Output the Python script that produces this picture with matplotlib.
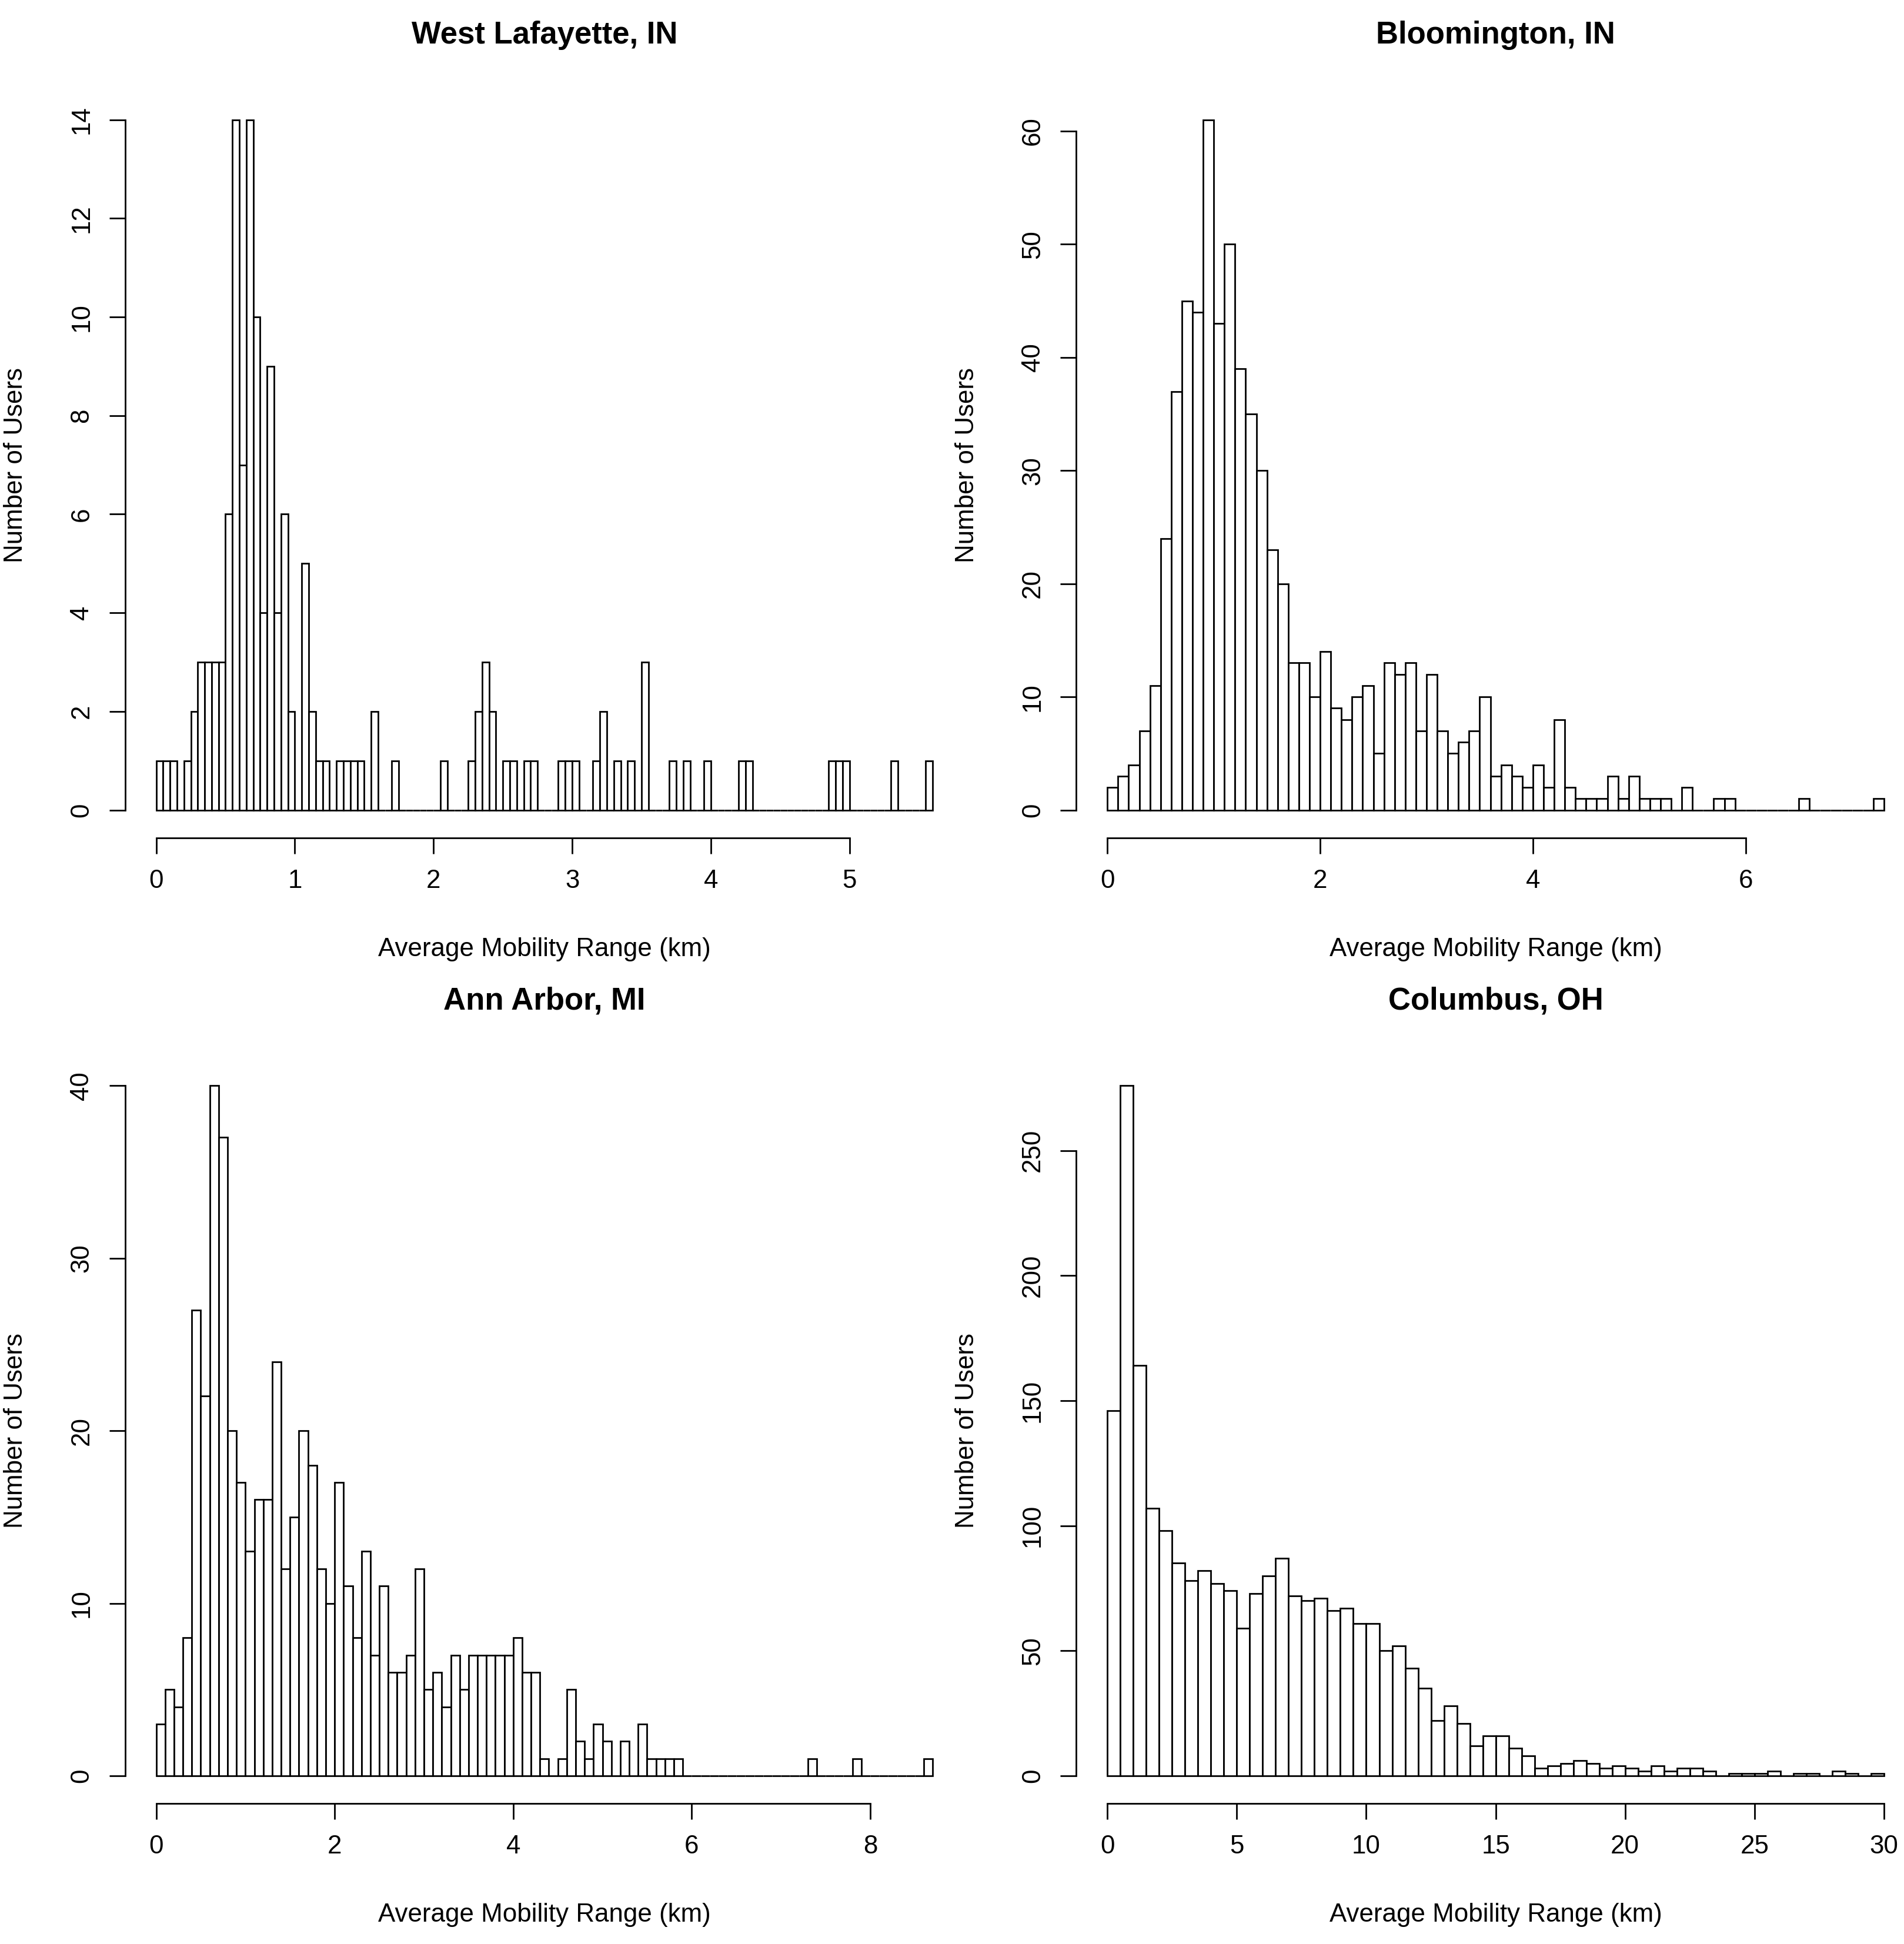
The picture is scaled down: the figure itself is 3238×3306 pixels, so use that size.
import numpy as np
import matplotlib
matplotlib.use('Agg')
import matplotlib.pyplot as plt

plt.rcParams['font.family'] = ['Liberation Sans', 'DejaVu Sans']

# histogram counts per bin
titles = ['West Lafayette, IN', 'Bloomington, IN', 'Ann Arbor, MI', 'Columbus, OH']
bin_widths = [0.05, 0.1, 0.1, 0.5]

lafayette_counts = [1, 1, 1, 0, 1, 2, 3, 3, 3, 3,
                    6, 14, 7, 14, 10, 4, 9, 4, 6, 2,
                    0, 5, 2, 1, 1, 0, 1, 1, 1, 1,
                    0, 2, 0, 0, 1, 0, 0, 0, 0, 0,
                    0, 1, 0, 0, 0, 1, 2, 3, 2, 0,
                    1, 1, 0, 1, 1, 0, 0, 0, 1, 1,
                    1, 0, 0, 1, 2, 0, 1, 0, 1, 0,
                    3, 0, 0, 0, 1, 0, 1, 0, 0, 1,
                    0, 0, 0, 0, 1, 1, 0, 0, 0, 0,
                    0, 0, 0, 0, 0, 0, 0, 1, 1, 1,
                    0, 0, 0, 0, 0, 0, 1, 0, 0, 0,
                    0, 1]

bloomington_counts = [2, 3, 4, 7, 11, 24, 37, 45, 44, 61,
                      43, 50, 39, 35, 30, 23, 20, 13, 13, 10,
                      14, 9, 8, 10, 11, 5, 13, 12, 13, 7,
                      12, 7, 5, 6, 7, 10, 3, 4, 3, 2,
                      4, 2, 8, 2, 1, 1, 1, 3, 1, 3,
                      1, 1, 1, 0, 2, 0, 0, 1, 1, 0,
                      0, 0, 0, 0, 0, 1, 0, 0, 0, 0,
                      0, 0, 1]

annarbor_counts = [3, 5, 4, 8, 27, 22, 40, 37, 20, 17,
                   13, 16, 16, 24, 12, 15, 20, 18, 12, 10,
                   17, 11, 8, 13, 7, 11, 6, 6, 7, 12,
                   5, 6, 4, 7, 5, 7, 7, 7, 7, 7,
                   8, 6, 6, 1, 0, 1, 5, 2, 1, 3,
                   2, 0, 2, 0, 3, 1, 1, 1, 1, 0,
                   0, 0, 0, 0, 0, 0, 0, 0, 0, 0,
                   0, 0, 0, 1, 0, 0, 0, 0, 1, 0,
                   0, 0, 0, 0, 0, 0, 1]

columbus_counts = [146, 276, 164, 107, 98, 85, 78, 82, 77, 74,
                   59, 73, 80, 87, 72, 70, 71, 66, 67, 61,
                   61, 50, 52, 43, 35, 22, 28, 21, 12, 16,
                   16, 11, 8, 3, 4, 5, 6, 5, 3, 4,
                   3, 2, 4, 2, 3, 3, 2, 0, 1, 1,
                   1, 2, 0, 1, 1, 0, 2, 1, 0, 1]

all_counts = [lafayette_counts, bloomington_counts, annarbor_counts, columbus_counts]

x_ticks = [[0, 1, 2, 3, 4, 5],
           [0, 2, 4, 6],
           [0, 2, 4, 6, 8],
           [0, 5, 10, 15, 20, 25, 30]]
y_ticks = [[0, 2, 4, 6, 8, 10, 12, 14],
           [0, 10, 20, 30, 40, 50, 60],
           [0, 10, 20, 30, 40],
           [0, 50, 100, 150, 200, 250]]

fig = plt.figure(figsize=(3238 / 200, 3306 / 200), dpi=200)

lefts = [0.0657, 0.5653, 0.0657, 0.5653]
bottoms = [0.5691, 0.5691, 0.0723, 0.0723]
w, h = 0.4405, 0.3835
fs = 15.8

for i in range(4):
    ax = fig.add_axes([lefts[i], bottoms[i], w, h])
    counts = all_counts[i]
    bw = bin_widths[i]
    edges = np.arange(len(counts)) * bw
    ax.bar(edges, counts, width=bw, align='edge', color='white',
           edgecolor='black', linewidth=1.0)

    xmax = len(counts) * bw
    ymax = max(counts)
    ax.set_xlim(-0.04 * xmax, 1.04 * xmax)
    ax.set_ylim(-0.04 * ymax, 1.04 * ymax)

    ax.set_xticks(x_ticks[i])
    ax.set_yticks(y_ticks[i])
    for s in ['top', 'right']:
        ax.spines[s].set_visible(False)
    ax.spines['left'].set_bounds(y_ticks[i][0], y_ticks[i][-1])
    ax.spines['bottom'].set_bounds(x_ticks[i][0], x_ticks[i][-1])
    ax.spines['left'].set_linewidth(1.0)
    ax.spines['bottom'].set_linewidth(1.0)
    ax.tick_params(direction='out', length=9.7, width=1.0, labelsize=fs, pad=9.5)
    ax.tick_params(axis='y', labelrotation=90)
    for lab in ax.get_yticklabels():
        lab.set_va('center')

    ax.text(0.5, -190 / 1268, 'Average Mobility Range (km)', transform=ax.transAxes,
            ha='center', va='center', fontsize=fs)
    ax.text(-186 / 1428, 0.5, 'Number of Users', transform=ax.transAxes,
            ha='center', va='center', rotation=90, fontsize=fs)
    ax.text(0.5, 1 + 97 / 1268, titles[i], transform=ax.transAxes,
            ha='center', va='center', fontsize=19, fontweight='bold')

fig.savefig('out.png', dpi=200, facecolor='white')
